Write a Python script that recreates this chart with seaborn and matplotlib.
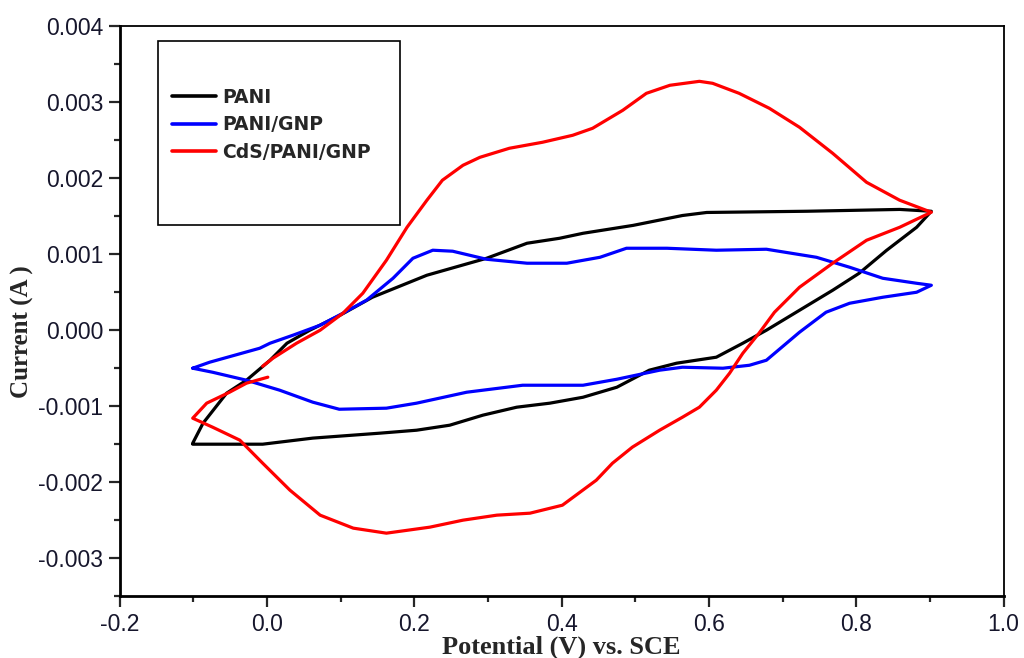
import numpy as np
import pandas as pd
import matplotlib
matplotlib.use("Agg")
import matplotlib.pyplot as plt
from matplotlib.ticker import MultipleLocator, FormatStrFormatter
from matplotlib.patches import Rectangle
import seaborn as sns

# Cyclic voltammograms (potential in V vs. SCE, current in mA)
pani_v = [-0.101, -0.087, -0.055, -0.028, 0.004, 0.027, 0.058, 0.099, 0.143, 0.217, 0.298,
          0.353, 0.397, 0.429, 0.497, 0.564, 0.597, 0.733, 0.859, 0.902,
          0.882, 0.841, 0.804, 0.768, 0.723, 0.678, 0.646, 0.610, 0.556, 0.519, 0.475,
          0.429, 0.384, 0.339, 0.293, 0.248, 0.203, 0.153, 0.062, -0.006, -0.101]
pani_i = [-1.487, -1.224, -0.829, -0.658, -0.395, -0.171, 0.0, 0.197, 0.434, 0.724, 0.947,
          1.145, 1.21, 1.276, 1.38, 1.51, 1.55, 1.566, 1.59, 1.566,
          1.355, 1.05, 0.75, 0.526, 0.263, 0.0, -0.171, -0.355, -0.434, -0.526, -0.75,
          -0.882, -0.96, -1.013, -1.118, -1.25, -1.316, -1.355, -1.42, -1.5, -1.5]

gnp_v = [-0.101, -0.078, -0.010, 0.004, 0.035, 0.072, 0.103, 0.135, 0.171, 0.198, 0.225,
         0.252, 0.298, 0.353, 0.407, 0.452, 0.488, 0.543, 0.610, 0.678, 0.746, 0.791,
         0.836, 0.882, 0.902,
         0.882, 0.836, 0.791, 0.759, 0.723, 0.678, 0.655, 0.619, 0.564, 0.533, 0.475,
         0.429, 0.347, 0.271, 0.203, 0.162, 0.098, 0.062, 0.017, -0.028, -0.074, -0.101]
gnp_i = [-0.5, -0.421, -0.237, -0.171, -0.066, 0.066, 0.224, 0.395, 0.684, 0.947, 1.053,
         1.04, 0.934, 0.882, 0.882, 0.96, 1.079, 1.079, 1.053, 1.066, 0.96, 0.829,
         0.684, 0.618, 0.592,
         0.5, 0.434, 0.355, 0.237, -0.026, -0.395, -0.461, -0.5, -0.487, -0.526, -0.645,
         -0.724, -0.724, -0.816, -0.96, -1.026, -1.04, -0.947, -0.789, -0.658, -0.553, -0.5]

cds_v = [-0.006, 0.008, 0.040, 0.072, 0.103, 0.130, 0.162, 0.190, 0.217, 0.238, 0.266,
         0.289, 0.329, 0.374, 0.415, 0.442, 0.483, 0.515, 0.547, 0.587, 0.605, 0.641,
         0.682, 0.723, 0.768, 0.814, 0.859, 0.902,
         0.859, 0.814, 0.768, 0.723, 0.689, 0.668, 0.646, 0.628, 0.610, 0.587, 0.564,
         0.533, 0.496, 0.469, 0.447, 0.401, 0.357, 0.312, 0.266, 0.221, 0.162, 0.117,
         0.072, 0.031, -0.006, -0.037, -0.074, -0.101,
         -0.082, -0.051, -0.028, 0.001]
cds_i = [-0.474, -0.368, -0.171, 0.0, 0.224, 0.487, 0.921, 1.355, 1.711, 1.974, 2.171,
         2.276, 2.395, 2.474, 2.566, 2.658, 2.895, 3.118, 3.224, 3.276, 3.25, 3.118,
         2.921, 2.671, 2.329, 1.947, 1.711, 1.553,
         1.355, 1.184, 0.882, 0.566, 0.237, -0.039, -0.303, -0.566, -0.789, -1.013, -1.145,
         -1.316, -1.539, -1.75, -1.974, -2.303, -2.408, -2.434, -2.5, -2.592, -2.671, -2.605,
         -2.434, -2.105, -1.75, -1.447, -1.276, -1.158,
         -0.96, -0.816, -0.697, -0.618]

labels = ["PANI", "PANI/GNP", "CdS/PANI/GNP"]
colors = {"PANI": "#000000", "PANI/GNP": "#0000ff", "CdS/PANI/GNP": "#ff0000"}

frames = []
for name, v, i in zip(labels, [pani_v, gnp_v, cds_v], [pani_i, gnp_i, cds_i]):
    frames.append(pd.DataFrame({"potential": v,
                                "current": np.asarray(i) * 1e-3,
                                "sample": name,
                                "step": np.arange(len(v))}))
df = pd.concat(frames, ignore_index=True)

sns.set_style("white")
plt.rcParams["axes.unicode_minus"] = False
plt.rcParams["font.family"] = ["Liberation Sans", "DejaVu Sans"]

fig = plt.figure(figsize=(10.24, 6.58), dpi=100)
ax = fig.add_axes([0.117, 0.094, 0.863, 0.866])

sns.lineplot(data=df, x="potential", y="current", hue="sample", hue_order=labels,
             palette=colors, sort=False, estimator=None, units="sample",
             linewidth=2.3, ax=ax, legend=True)

ax.set_xlim(-0.2, 1.0)
ax.set_ylim(-0.0035, 0.004)
ax.xaxis.set_major_locator(MultipleLocator(0.2))
ax.xaxis.set_minor_locator(MultipleLocator(0.1))
ax.yaxis.set_major_locator(MultipleLocator(0.001))
ax.yaxis.set_minor_locator(MultipleLocator(0.0005))
ax.xaxis.set_major_formatter(FormatStrFormatter("%.1f"))
ax.yaxis.set_major_formatter(FormatStrFormatter("%.3f"))

ax.tick_params(which="major", direction="out", length=8, width=1.6,
               labelsize=16.5, labelcolor="#16162c", bottom=True, left=True,
               top=False, right=False, pad=4)
ax.tick_params(which="minor", direction="out", length=4, width=1.6,
               bottom=True, left=True, top=False, right=False)

for side in ["left", "bottom"]:
    ax.spines[side].set_linewidth(2.0)
    ax.spines[side].set_color("black")
for side in ["top", "right"]:
    ax.spines[side].set_linewidth(1.3)
    ax.spines[side].set_color("black")

ax.set_xlabel("Potential (V) vs. SCE", family="Liberation Serif", fontweight="bold",
              fontsize=19, labelpad=0)
ax.set_ylabel("Current (A )", family="Liberation Serif", fontweight="bold",
              fontsize=18)
ax.yaxis.set_label_coords(-0.097, 0.465)

# Legend entries inside a fixed outlined box
handles, _ = ax.get_legend_handles_labels()
ax.get_legend().remove()
ax.add_patch(Rectangle((0.043, 0.651), 0.274, 0.323, transform=ax.transAxes,
                       fill=False, edgecolor="black", linewidth=1.2, zorder=5))
leg = ax.legend(handles=handles, labels=labels, loc="upper left",
                bbox_to_anchor=(0.051, 0.905), frameon=False, handlelength=2.35,
                handletextpad=0.3, labelspacing=0.45, borderaxespad=0,
                prop={"family": "DejaVu Sans", "weight": "bold", "size": 13.5})
for line in leg.get_lines():
    line.set_linewidth(2.6)

fig.savefig("out.png", dpi=100)
